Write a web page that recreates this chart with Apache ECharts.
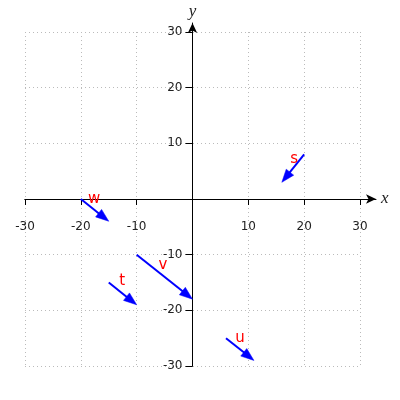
<!DOCTYPE html>
<html>
<head>
<meta charset="utf-8">
<script src="https://cdn.jsdelivr.net/npm/echarts@6/dist/echarts.min.js"></script>
<style>html,body{margin:0;padding:0;background:#fff}#c{width:400px;height:400px}</style>
</head>
<body>
<div id="c"></div>
<script>
// ---- data ----
const arrowNames = ['s', 't', 'u', 'v', 'w'];
const startX = [20, -15, 6, -10, -20];
const startY = [8, -15, -25, -10, 0];
const endX = [16, -10, 11, 0, -15];
const endY = [3, -19, -29, -18, -4];
const labelX = [18.2, -12.6, 8.5, -5.3, -17.6];
const labelY = [7.2, -14.7, -25.0, -11.9, -0.1];
const axisMin = -30;
const axisMax = 30;
const tickStep = 10;

const arrowData = arrowNames.map((n, i) => [startX[i], startY[i], endX[i], endY[i]]);
const labelData = arrowNames.map((n, i) => [labelX[i], labelY[i], n]);

const chart = echarts.init(document.getElementById('c'), null, {renderer: 'canvas'});
const tickFont = {fontFamily: 'DejaVu Sans', fontSize: 12, color: '#222'};
const nameFont = {fontFamily: 'Liberation Serif', fontStyle: 'italic', fontSize: 17, color: '#222'};

chart.setOption({
  animation: false,
  backgroundColor: '#fff',
  grid: [
    {left: 25, right: 40, top: 32, bottom: 34, containLabel: false, outerBoundsMode: 'none'},
    {left: 25, right: 24, top: 23, bottom: 34, containLabel: false, outerBoundsMode: 'none'}
  ],
  xAxis: [
    {
      gridIndex: 0, type: 'value', min: axisMin, max: axisMax, interval: tickStep,
      position: 'bottom', offset: -167,
      axisLine: {show: true, onZero: false, lineStyle: {color: '#000', width: 1}},
      axisTick: {show: true, length: 6, lineStyle: {color: '#000'}},
      axisLabel: Object.assign({margin: 22, formatter: v => v === 0 ? '' : String(v)}, tickFont),
      splitLine: {show: true, lineStyle: {color: '#bbb', width: 1, type: [1, 3]}}
    },
    {
      gridIndex: 1, type: 'value', min: axisMin, max: 32.87,
      position: 'bottom', offset: -167,
      axisLine: {show: true, onZero: false, symbol: ['none', 'arrow'], symbolSize: [7, 10], lineStyle: {color: '#000', width: 1}},
      axisTick: {show: false}, axisLabel: {show: false}, splitLine: {show: false},
      name: 'x', nameLocation: 'end', nameGap: 5, nameTextStyle: Object.assign({verticalAlign: 'middle', align: 'left'}, nameFont)
    }
  ],
  yAxis: [
    {
      gridIndex: 0, type: 'value', min: axisMin, max: axisMax, interval: tickStep,
      position: 'left', offset: -167.5,
      axisLine: {show: true, onZero: false, lineStyle: {color: '#000', width: 1}},
      axisTick: {show: true, length: 7, lineStyle: {color: '#000'}},
      axisLabel: Object.assign({margin: 10, formatter: v => v === 0 ? '' : String(v)}, tickFont),
      splitLine: {show: true, lineStyle: {color: '#bbb', width: 1, type: [1, 3]}}
    },
    {
      gridIndex: 1, type: 'value', min: axisMin, max: 31.62,
      position: 'left', offset: -167.5,
      axisLine: {show: true, onZero: false, symbol: ['none', 'arrow'], symbolSize: [7, 10], lineStyle: {color: '#000', width: 1}},
      axisTick: {show: false}, axisLabel: {show: false}, splitLine: {show: false},
      name: 'y', nameLocation: 'end', nameGap: 3, nameTextStyle: Object.assign({align: 'center'}, nameFont)
    }
  ],
  series: [
    {
      type: 'custom', xAxisIndex: 0, yAxisIndex: 0, clip: false, z: 5,
      data: arrowData,
      encode: {x: [0, 2], y: [1, 3]},
      renderItem: function (params, api) {
        const p0 = api.coord([api.value(0), api.value(1)]);
        const p1 = api.coord([api.value(2), api.value(3)]);
        const dx = p1[0] - p0[0], dy = p1[1] - p0[1];
        const len = Math.sqrt(dx * dx + dy * dy);
        const ux = dx / len, uy = dy / len;
        const headL = 13, headW = 4.8;
        const bx = p1[0] - ux * headL, by = p1[1] - uy * headL;
        return {
          type: 'group',
          children: [
            {type: 'line', shape: {x1: p0[0], y1: p0[1], x2: bx + ux * 2, y2: by + uy * 2},
             style: {stroke: '#0000ff', lineWidth: 2}},
            {type: 'polygon', shape: {points: [[p1[0], p1[1]], [bx - uy * headW, by + ux * headW], [bx + uy * headW, by - ux * headW]]},
             style: {fill: '#0000ff', stroke: '#0000ff', lineWidth: 0.5}}
          ]
        };
      }
    },
    {
      type: 'custom', xAxisIndex: 0, yAxisIndex: 0, clip: false, z: 6,
      data: labelData,
      encode: {x: 0, y: 1},
      renderItem: function (params, api) {
        const p = api.coord([api.value(0), api.value(1)]);
        return {
          type: 'text', x: p[0], y: p[1],
          style: {text: labelData[params.dataIndex][2], fill: '#ff0000', fontFamily: 'DejaVu Sans', fontSize: 15, align: 'center', verticalAlign: 'middle'}
        };
      }
    }
  ]
});
</script>
</body>
</html>
